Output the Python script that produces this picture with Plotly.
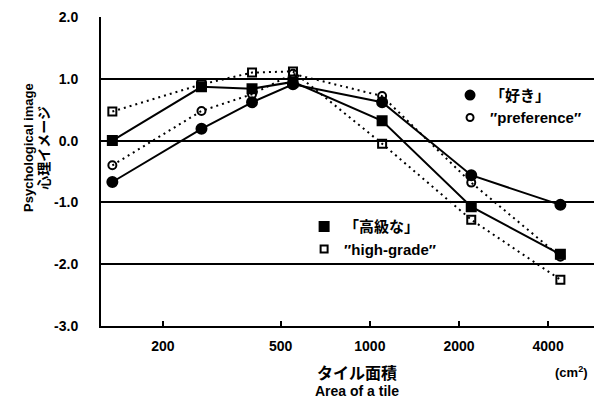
import plotly.graph_objects as go

# Tile area (cm^2) and psychological image ratings
area = [135, 270, 400, 550, 1100, 2200, 4400]
suki = [-0.67, 0.19, 0.62, 0.91, 0.62, -0.56, -1.04]
preference = [-0.40, 0.48, 0.75, 1.08, 0.72, -0.68, -1.88]
koukyu = [0.00, 0.87, 0.84, 0.95, 0.32, -1.07, -1.84]
high_grade = [0.47, 0.91, 1.10, 1.12, -0.05, -1.28, -2.25]

x_ticks = [200, 500, 1000, 2000, 4000]
y_ticks = [-3, -2, -1, 0, 1, 2]
y_ticktext = ["-3.0", "-2.0", "-1.0", "0.0", "1.0", "2.0"]

LAT = "Liberation Sans, Arial, sans-serif"
JP = "Noto Sans CJK JP, sans-serif"
MIX = "Liberation Sans, Noto Sans CJK JP, sans-serif"

fig = go.Figure()

series = [
    (suki, "circle", "solid", 10),
    (preference, "circle-open", "2px,4px", 8),
    (koukyu, "square", "solid", 9),
    (high_grade, "square-open", "2px,4px", 8),
]
for ys, sym, dash, size in series:
    fig.add_trace(go.Scatter(
        x=area, y=ys, mode="lines+markers",
        line=dict(color="black", width=2, dash=dash),
        marker=dict(symbol=sym, size=size, color="black",
                    line=dict(color="black", width=2)),
        showlegend=False,
    ))

# Legend-only entries
legend_items = [
    ("「好き」", "circle", 9, "legend"),
    ("″preference″", "circle-open", 7, "legend"),
    ("「高級な」", "square", 9, "legend2"),
    ("″high-grade″", "square-open", 7, "legend2"),
]
for name, sym, size, lg in legend_items:
    fig.add_trace(go.Scatter(
        x=[None], y=[None], mode="markers", name=name,
        marker=dict(symbol=sym, size=size, color="black",
                    line=dict(color="black", width=2)),
        legend=lg, showlegend=True,
    ))

legend_font = dict(family=MIX, size=15, weight="bold")
fig.update_layout(
    width=594, height=402,
    margin=dict(l=101, r=0, t=17, b=76),
    paper_bgcolor="white", plot_bgcolor="white",
    font=dict(family=LAT, color="black", size=14),
    legend=dict(x=0.708, y=0.80, xanchor="left", yanchor="top",
                bgcolor="rgba(0,0,0,0)", font=legend_font,
                tracegroupgap=0, itemwidth=30),
    legend2=dict(x=0.412, y=0.375, xanchor="left", yanchor="top",
                 bgcolor="rgba(0,0,0,0)", font=legend_font,
                 tracegroupgap=0, itemwidth=30),
    xaxis=dict(
        type="log", range=[2.092, 3.757],
        tickvals=x_ticks, ticktext=[str(v) for v in x_ticks],
        ticks="inside", ticklen=5, tickwidth=1.5, tickcolor="black",
        showgrid=False, zeroline=False,
        showline=True, linecolor="black", linewidth=2,
        tickfont=dict(family=LAT, size=14, weight="bold"),
        ticklabelstandoff=6,
    ),
    yaxis=dict(
        range=[-3, 2], tickvals=y_ticks, ticktext=y_ticktext,
        ticks="", showgrid=True, gridcolor="black", gridwidth=1.5,
        zeroline=False, showline=True, linecolor="black", linewidth=2,
        tickfont=dict(family=LAT, size=14, weight="bold"),
        ticklabelstandoff=18,
    ),
)

# Axis titles
fig.add_annotation(
    text="Psychological image", xref="paper", yref="paper",
    x=-0.147, y=0.578, textangle=-90, showarrow=False,
    font=dict(family=LAT, size=13, weight="bold"),
    xanchor="center", yanchor="middle",
)
fig.add_annotation(
    text="心理イメージ", xref="paper", yref="paper",
    x=-0.117, y=0.578, textangle=-90, showarrow=False,
    font=dict(family=JP, size=14, weight="bold"),
    xanchor="center", yanchor="middle",
)
fig.add_annotation(
    text="タイル面積", xref="paper", yref="paper",
    x=0.52, y=-0.148, showarrow=False,
    font=dict(family=JP, size=16, weight="bold"),
    xanchor="center", yanchor="middle",
)
fig.add_annotation(
    text="Area of a tile", xref="paper", yref="paper",
    x=0.52, y=-0.21, showarrow=False,
    font=dict(family=LAT, size=14, weight="bold"),
    xanchor="center", yanchor="middle",
)
fig.add_annotation(
    text="(cm<sup>2</sup>)", xref="paper", yref="paper",
    x=0.955, y=-0.148, showarrow=False,
    font=dict(family=LAT, size=13, weight="bold"),
    xanchor="center", yanchor="middle",
)

fig.write_html("out.html")
